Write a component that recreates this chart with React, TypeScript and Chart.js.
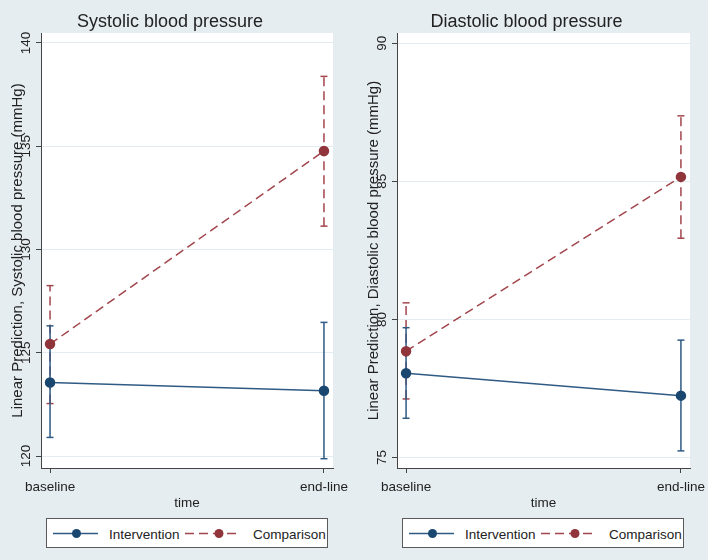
import React, { useEffect, useRef } from 'react';
import { Chart, registerables } from 'chart.js';

Chart.register(...registerables);

// ---------- data ----------
const timeLabels = ['baseline', 'end-line'];
const timeValues = [0, 1];
const seriesNames = ['Intervention', 'Comparison'];

const sysIntervention = [123.56, 123.16];
const sysInterventionLow = [120.9, 119.87];
const sysInterventionHigh = [126.3, 126.47];
const sysComparison = [125.42, 134.77];
const sysComparisonLow = [122.54, 131.13];
const sysComparisonHigh = [128.25, 138.38];
const sysTicks = [120, 125, 130, 135, 140];

const diaIntervention = [78.05, 77.24];
const diaInterventionLow = [76.42, 75.24];
const diaInterventionHigh = [79.7, 79.25];
const diaComparison = [78.85, 85.16];
const diaComparisonLow = [77.12, 82.94];
const diaComparisonHigh = [80.6, 87.37];
const diaTicks = [75, 80, 85, 90];

// ---------- styles ----------
const FONT = '"Liberation Sans", Arial, Helvetica, sans-serif';
const BG = '#e5edf1';
const NAVY = '#1a476f';
const NAVY_LINE = '#2e5a84';
const MAROON = '#90353b';
const MAROON_LINE = '#a2464d';
const DASH = [9, 5];

interface PanelCfg {
  title: string;
  yTitle: string;
  ticks: number[];
  yMin: number;
  yMax: number;
  intervention: number[];
  interventionLow: number[];
  interventionHigh: number[];
  comparison: number[];
  comparisonLow: number[];
  comparisonHigh: number[];
  padLeft: number;
  padRight: number;
}

const errData = (lo: number[], hi: number[]) =>
  timeValues.flatMap((t, i) => [
    { x: t, y: lo[i] },
    { x: t, y: hi[i] },
    { x: t, y: null as any },
  ]);

const meanData = (vals: number[]) => timeValues.map((t, i) => ({ x: t, y: vals[i] }));

function Panel({ cfg, left }: { cfg: PanelCfg; left: number }) {
  const ref = useRef<HTMLCanvasElement | null>(null);

  useEffect(() => {
    if (!ref.current) return;

    const bgPlugin = {
      id: 'bgPlugin',
      beforeDraw(chart: any) {
        const { ctx, chartArea } = chart;
        ctx.save();
        ctx.fillStyle = '#ffffff';
        ctx.fillRect(chartArea.left, chartArea.top, chartArea.right - chartArea.left, chartArea.bottom - chartArea.top);
        ctx.restore();
      },
    };

    const textPlugin = {
      id: 'textPlugin',
      afterDraw(chart: any) {
        const { ctx, chartArea } = chart;
        const x = chart.scales.x;
        const y = chart.scales.y;
        ctx.save();
        ctx.fillStyle = '#222222';
        // y tick labels (rotated)
        ctx.font = `13.5px ${FONT}`;
        ctx.textAlign = 'center';
        ctx.textBaseline = 'alphabetic';
        for (const t of cfg.ticks) {
          const py = y.getPixelForValue(t);
          ctx.save();
          ctx.translate(chartArea.left - 11, py);
          ctx.rotate(-Math.PI / 2);
          ctx.fillText(String(t), 0, 0);
          ctx.restore();
        }
        // y title
        ctx.font = `15px ${FONT}`;
        ctx.save();
        ctx.translate(chartArea.left - 19, (chartArea.top + chartArea.bottom) / 2);
        ctx.rotate(-Math.PI / 2);
        ctx.fillText(cfg.yTitle, 0, 0);
        ctx.restore();
        // x tick labels
        ctx.font = `13.5px ${FONT}`;
        timeValues.forEach((v, i) => {
          ctx.fillText(timeLabels[i], x.getPixelForValue(v), 491);
        });
        // x title
        ctx.fillText('time', (chartArea.left + chartArea.right) / 2, 507);
        // main title
        ctx.font = `18px ${FONT}`;
        ctx.fillText(cfg.title, (chartArea.left + chartArea.right) / 2 - 17, 27);
        ctx.restore();
      },
    };

    const chart = new Chart(ref.current, {
      type: 'line',
      data: {
        datasets: [
          {
            label: seriesNames[0],
            data: meanData(cfg.intervention),
            borderColor: NAVY_LINE,
            backgroundColor: NAVY,
            pointBackgroundColor: NAVY,
            pointBorderColor: NAVY,
            pointRadius: 4.5,
            borderWidth: 1.5,
          },
          {
            label: seriesNames[1],
            data: meanData(cfg.comparison),
            borderColor: MAROON_LINE,
            backgroundColor: MAROON,
            pointBackgroundColor: MAROON,
            pointBorderColor: MAROON,
            pointRadius: 4.5,
            borderWidth: 1.5,
            borderDash: DASH,
          },
          {
            label: 'Intervention CI',
            data: errData(cfg.interventionLow, cfg.interventionHigh),
            borderColor: NAVY_LINE,
            pointBorderColor: NAVY_LINE,
            pointStyle: 'line',
            pointRadius: 3.5,
            pointBorderWidth: 1.5,
            borderWidth: 1.5,
            spanGaps: false,
          },
          {
            label: 'Comparison CI',
            data: errData(cfg.comparisonLow, cfg.comparisonHigh),
            borderColor: MAROON_LINE,
            pointBorderColor: MAROON_LINE,
            pointStyle: 'line',
            pointRadius: 3.5,
            pointBorderWidth: 1.5,
            borderWidth: 1.5,
            borderDash: DASH,
            spanGaps: false,
          },
        ],
      } as any,
      options: {
        animation: false,
        responsive: false,
        devicePixelRatio: 1,
        events: [],
        layout: { padding: { top: 33, left: cfg.padLeft - 41, right: cfg.padRight, bottom: 0 } },
        plugins: { legend: { display: false }, title: { display: false }, tooltip: { enabled: false } },
        scales: {
          x: {
            type: 'linear',
            min: -0.033,
            max: 1.033,
            afterBuildTicks: (s: any) => {
              s.ticks = timeValues.map((v) => ({ value: v }));
            },
            afterFit: (s: any) => {
              s.height = 92;
            },
            ticks: { display: false },
            grid: { drawOnChartArea: false, drawTicks: true, tickLength: 5, tickColor: '#444', tickWidth: 1 },
            border: { display: true, color: '#444', width: 1 },
          },
          y: {
            type: 'linear',
            min: cfg.yMin,
            max: cfg.yMax,
            afterBuildTicks: (s: any) => {
              s.ticks = cfg.ticks.map((v) => ({ value: v }));
            },
            afterFit: (s: any) => {
              s.width = 41;
            },
            ticks: { display: false },
            grid: { color: '#e3ecf0', lineWidth: 1, drawTicks: true, tickLength: 5, tickColor: '#444', tickWidth: 1 },
            border: { display: true, color: '#444', width: 1 },
          },
        },
      } as any,
      plugins: [bgPlugin, textPlugin],
    });
    return () => chart.destroy();
  }, [cfg]);

  return (
    <div style={{ position: 'absolute', left, top: 0, width: 354, height: 560 }}>
      <canvas ref={ref} width={354} height={560} style={{ display: 'block' }} />
      <div
        style={{
          position: 'absolute',
          left: cfg.padLeft + 5,
          top: 518,
          width: 282,
          height: 30,
          boxSizing: 'border-box',
          border: '1px solid #5a5a5a',
          background: '#ffffff',
        }}
      >
        <svg width={280} height={28} style={{ display: 'block' }}>
          <line x1={6} y1={14.5} x2={51} y2={14.5} stroke={NAVY_LINE} strokeWidth={1.5} />
          <circle cx={29.5} cy={14.5} r={4.5} fill={NAVY} />
          <text x={62} y={20} fontFamily={FONT} fontSize={13.5} fill="#222">
            {seriesNames[0]}
          </text>
          <line x1={138} y1={14.5} x2={194} y2={14.5} stroke={MAROON_LINE} strokeWidth={1.5} strokeDasharray="9 5" />
          <circle cx={172} cy={14.5} r={4.5} fill={MAROON} />
          <text x={206} y={20} fontFamily={FONT} fontSize={13.5} fill="#222">
            {seriesNames[1]}
          </text>
        </svg>
      </div>
    </div>
  );
}

const sysCfg: PanelCfg = {
  title: 'Systolic blood pressure',
  yTitle: 'Linear Prediction, Systolic blood pressure (mmHg)',
  ticks: sysTicks,
  yMin: 119.42,
  yMax: 140.48,
  intervention: sysIntervention,
  interventionLow: sysInterventionLow,
  interventionHigh: sysInterventionHigh,
  comparison: sysComparison,
  comparisonLow: sysComparisonLow,
  comparisonHigh: sysComparisonHigh,
  padLeft: 41,
  padRight: 21,
};

const diaCfg: PanelCfg = {
  title: 'Diastolic blood pressure',
  yTitle: 'Linear Prediction, Diastolic blood pressure (mmHg)',
  ticks: diaTicks,
  yMin: 74.62,
  yMax: 90.37,
  intervention: diaIntervention,
  interventionLow: diaInterventionLow,
  interventionHigh: diaInterventionHigh,
  comparison: diaComparison,
  comparisonLow: diaComparisonLow,
  comparisonHigh: diaComparisonHigh,
  padLeft: 43,
  padRight: 18,
};

export default function App() {
  return (
    <div style={{ position: 'absolute', left: 0, top: 0, width: 708, height: 560, background: BG, overflow: 'hidden' }}>
      <Panel cfg={sysCfg} left={0} />
      <Panel cfg={diaCfg} left={354} />
    </div>
  );
}
